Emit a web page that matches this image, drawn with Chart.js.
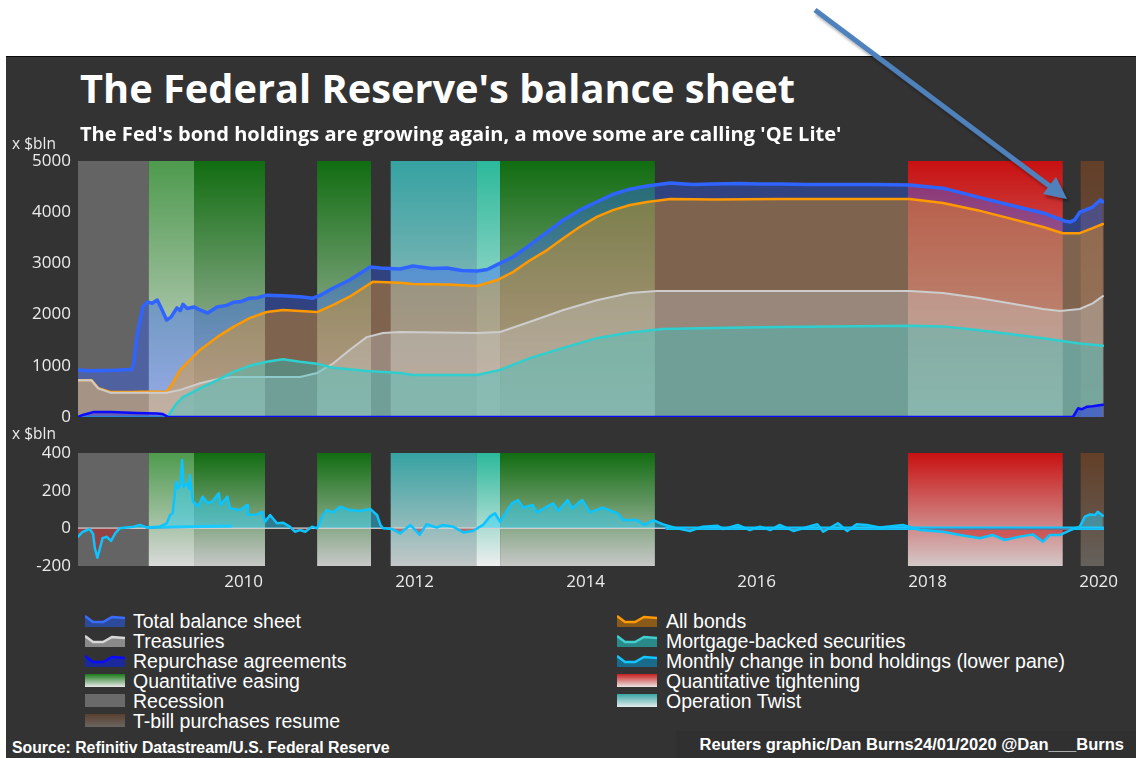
<!DOCTYPE html>
<html><head><meta charset="utf-8">
<script src="https://cdn.jsdelivr.net/npm/chart.js@4.4.1/dist/chart.umd.min.js"></script>
<style>
html,body{margin:0;padding:0;background:#fff;width:1136px;height:758px;overflow:hidden;position:relative;}
#panel{position:absolute;left:6px;top:56px;width:1130px;height:702px;background:#333333;border-top:1.5px solid #0a0a0a;box-sizing:border-box;}
#credbox{position:absolute;left:676px;top:731px;width:460px;height:27px;background:#303030;}
.t{position:absolute;white-space:nowrap;color:#fff;line-height:1;}
.os{font-family:"Open Sans",sans-serif;}
.ls{font-family:"Liberation Sans",Arial,sans-serif;}
canvas{position:absolute;left:0;}
#c1{top:150px;} #c2{top:445px;}
.leg{position:absolute;height:20px;display:flex;align-items:center;font-family:"Liberation Sans",Arial,sans-serif;font-size:19.5px;color:#fff;white-space:nowrap;line-height:20px;}
.leg svg{margin-right:8px;flex:none;}
#arrow{position:absolute;left:0;top:0;pointer-events:none;}
</style></head><body>
<div id="panel"></div>
<div id="credbox"></div>
<canvas id="c1" width="1136" height="280"></canvas>
<canvas id="c2" width="1136" height="150"></canvas>
<div class="t os" id="title" style="font-weight:700;font-size:34px;">The Federal Reserve's balance sheet</div>
<div class="t os" id="subtitle" style="font-weight:700;font-size:17px;">The Fed's bond holdings are growing again, a move some are calling 'QE Lite'</div>
<div class="t os" id="xb1" style="font-size:15.5px;color:#ececec;">x $bln</div>
<div class="t os" id="xb2" style="font-size:15.5px;color:#ececec;">x $bln</div>
<div class="t ls" id="source" style="font-weight:700;font-size:15px;">Source: Refinitiv Datastream/U.S. Federal Reserve</div>
<div class="t ls" id="credit" style="font-weight:700;font-size:15px;">Reuters graphic/Dan Burns24/01/2020 @Dan___Burns</div>
<div id="legend"></div>
<svg id="arrow" width="1136" height="758">
 <defs><filter id="sh" x="-10%" y="-10%" width="130%" height="130%"><feDropShadow dx="2" dy="3" stdDeviation="1.5" flood-color="#000" flood-opacity="0.35"/></filter></defs>
 <g filter="url(#sh)">
  <line x1="815" y1="10" x2="1051" y2="187" stroke="#4f81bd" stroke-width="5"/>
  <polygon points="1067,199 1043,194 1056,177" fill="#4f81bd"/>
 </g>
</svg>
<script>
// ---------------- DATA ($ billion; x = decimal year) ----------------
const totalBalance = [[2008.06,918],[2008.20,905],[2008.35,910],[2008.50,915],[2008.69,930],[2008.71,1000],[2008.75,1560],[2008.82,2150],[2008.88,2250],[2008.93,2220],[2008.99,2285],[2009.03,2150],[2009.10,1895],[2009.15,1950],[2009.22,2130],[2009.26,2080],[2009.29,2200],[2009.34,2120],[2009.42,2150],[2009.49,2090],[2009.58,2030],[2009.69,2150],[2009.80,2180],[2009.88,2240],[2009.96,2250],[2010.07,2320],[2010.16,2330],[2010.27,2380],[2010.46,2370],[2010.66,2350],[2010.81,2320],[2010.90,2380],[2011.05,2520],[2011.24,2675],[2011.48,2930],[2011.60,2910],[2011.83,2890],[2011.98,2950],[2012.20,2900],[2012.38,2910],[2012.55,2860],[2012.73,2850],[2012.85,2880],[2012.96,2970],[2013.15,3125],[2013.35,3360],[2013.55,3610],[2013.74,3850],[2013.93,4040],[2014.13,4200],[2014.32,4350],[2014.52,4450],[2014.72,4510],[2014.99,4570],[2015.25,4540],[2015.49,4550],[2015.80,4560],[2016.04,4550],[2016.27,4550],[2016.60,4540],[2017.00,4540],[2017.40,4540],[2017.79,4530],[2018.18,4470],[2018.58,4300],[2018.96,4140],[2019.35,3985],[2019.60,3830],[2019.67,3810],[2019.72,3850],[2019.78,4000],[2019.86,4050],[2019.93,4100],[2020.02,4240],[2020.05,4200]];
const allBonds = [[2008.06,720],[2008.22,720],[2008.30,565],[2008.44,490],[2008.70,490],[2008.80,495],[2009.00,495],[2009.10,490],[2009.17,660],[2009.26,920],[2009.37,1110],[2009.49,1310],[2009.69,1560],[2009.88,1760],[2010.07,1930],[2010.27,2050],[2010.46,2090],[2010.66,2070],[2010.86,2050],[2011.05,2190],[2011.24,2350],[2011.51,2640],[2011.83,2620],[2011.98,2600],[2012.40,2590],[2012.73,2560],[2012.96,2670],[2013.15,2830],[2013.35,3060],[2013.55,3260],[2013.74,3490],[2013.93,3710],[2014.13,3910],[2014.32,4040],[2014.52,4140],[2014.72,4200],[2014.99,4260],[2015.50,4250],[2016.27,4260],[2017.00,4260],[2017.79,4260],[2018.18,4180],[2018.58,4040],[2018.96,3880],[2019.35,3710],[2019.58,3590],[2019.78,3590],[2019.93,3690],[2020.05,3770]];
const treasuries = [[2008.06,720],[2008.22,720],[2008.30,560],[2008.44,475],[2009.10,475],[2009.26,530],[2009.49,660],[2009.69,740],[2009.88,780],[2010.27,780],[2010.66,780],[2010.86,860],[2011.05,1050],[2011.24,1310],[2011.44,1560],[2011.63,1640],[2011.83,1660],[2012.30,1650],[2012.73,1640],[2013.00,1660],[2013.35,1860],[2013.74,2090],[2014.13,2280],[2014.52,2420],[2014.83,2460],[2016.27,2460],[2017.79,2460],[2018.18,2420],[2018.58,2330],[2018.96,2220],[2019.35,2110],[2019.55,2070],[2019.78,2110],[2019.93,2220],[2020.05,2360]];
const mortgageBacked = [[2008.06,0],[2009.11,0],[2009.20,230],[2009.29,390],[2009.49,560],[2009.69,720],[2009.88,880],[2010.07,1000],[2010.27,1080],[2010.46,1130],[2010.66,1080],[2010.86,1040],[2011.05,960],[2011.44,900],[2011.83,860],[2011.98,820],[2012.73,820],[2013.00,920],[2013.35,1150],[2013.74,1350],[2014.13,1540],[2014.52,1650],[2014.90,1720],[2015.49,1740],[2016.27,1760],[2017.79,1780],[2018.18,1770],[2018.58,1700],[2018.96,1620],[2019.35,1540],[2019.76,1440],[2020.05,1390]];
const repurchase = [[2008.06,0],[2008.12,40],[2008.25,100],[2008.45,100],[2008.60,90],[2008.75,80],[2008.99,70],[2009.05,60],[2009.12,0],[2019.70,0],[2019.76,170],[2019.80,150],[2019.86,200],[2019.93,210],[2020.05,240]];
const monthlyChange = [[2008.06,-45],[2008.12,-18],[2008.20,-4],[2008.24,-30],[2008.26,-105],[2008.29,-156],[2008.32,-105],[2008.35,-52],[2008.40,-45],[2008.45,-67],[2008.50,-25],[2008.55,0],[2008.71,9],[2008.79,18],[2008.87,4],[2009.02,9],[2009.10,27],[2009.14,71],[2009.17,80],[2009.21,248],[2009.23,212],[2009.26,230],[2009.28,363],[2009.30,221],[2009.34,239],[2009.36,210],[2009.37,283],[2009.41,141],[2009.47,115],[2009.52,168],[2009.58,133],[2009.63,141],[2009.71,186],[2009.73,124],[2009.81,168],[2009.84,106],[2009.96,97],[2010.04,124],[2010.05,71],[2010.16,74],[2010.22,88],[2010.25,35],[2010.31,71],[2010.39,27],[2010.46,30],[2010.54,9],[2010.60,-18],[2010.66,-9],[2010.72,-18],[2010.80,9],[2010.86,0],[2010.92,62],[2010.97,97],[2011.05,85],[2011.13,115],[2011.24,97],[2011.36,92],[2011.48,103],[2011.56,71],[2011.60,18],[2011.63,0],[2011.74,-4],[2011.83,-27],[2011.95,18],[2012.06,-35],[2012.14,22],[2012.26,4],[2012.33,18],[2012.45,9],[2012.57,-22],[2012.68,-14],[2012.80,18],[2012.88,62],[2012.94,80],[2013.00,35],[2013.06,80],[2013.14,133],[2013.21,150],[2013.27,110],[2013.38,124],[2013.43,85],[2013.55,115],[2013.62,133],[2013.68,92],[2013.79,150],[2013.84,106],[2013.96,150],[2014.05,85],[2014.20,110],[2014.37,80],[2014.44,44],[2014.60,44],[2014.69,18],[2014.79,44],[2014.90,22],[2015.07,0],[2015.22,-14],[2015.37,9],[2015.54,14],[2015.61,-4],[2015.78,18],[2015.92,-9],[2016.04,9],[2016.16,-9],[2016.27,18],[2016.43,-14],[2016.71,22],[2016.78,-18],[2016.95,27],[2017.06,-14],[2017.17,22],[2017.29,18],[2017.44,4],[2017.71,18],[2017.91,-9],[2018.18,-18],[2018.38,-35],[2018.61,-53],[2018.76,-35],[2018.90,-62],[2019.08,-44],[2019.23,-32],[2019.35,-71],[2019.43,-35],[2019.55,-35],[2019.67,-9],[2019.78,9],[2019.84,62],[2019.90,74],[2019.96,71],[2019.99,88],[2020.05,67]];
const flatEarly = [[2008.06,0],[2014.95,0]];
const flatShort = [[2008.87,5],[2009.85,12]];
const flatLate = [[2014.95,0],[2020.05,0]];
const upperTicks = [0,1000,2000,3000,4000,5000];
const lowerTicks = [-200,0,200,400];
const yearTicks = [2010,2012,2014,2016,2018,2020];
const bandKind  = ['recession','recessionQE','qe','qe','twist','twistQE','qe','qt','tbill'];
const bandStart = [2008.063,2008.89,2009.42,2010.86,2011.72,2012.72,2013.00,2017.77,2019.79];
const bandEnd   = [2008.89,2009.42,2010.25,2011.49,2012.72,2013.00,2014.81,2019.58,2020.063];

// ---------------- STYLE ----------------
const bandStyle = {recession:['#646464','#646464'],recessionQE:['#4e9a4e','#dadada'],qe:['#116d11','#c8c8c8'],
  twist:['#36a2a2','#c4c8c8'],twistQE:['#2cb99b','#efefef'],qt:['#c81111','#d4c8c8'],tbill:['#633f28','#65615c']};
const xMin = 2008.063, xMax = 2020.063;
const tickFont = {family:"'Open Sans', sans-serif", size:17, lineHeight:1.2};
const tickColor = '#ececec';
const xy = a => a.map(p => ({x:p[0], y:p[1]}));
const plain = v => String(v);
function noPad(s){ s.paddingTop = 0; s.paddingBottom = 0; }

const bandPlugin = {
  id:'bands',
  beforeDatasetsDraw(chart){
    const {ctx, chartArea:a, scales:{x}} = chart;
    ctx.save();
    for (let i=0;i<bandKind.length;i++){
      const st = bandStyle[bandKind[i]];
      const x0 = x.getPixelForValue(bandStart[i]), x1 = x.getPixelForValue(bandEnd[i]);
      const g = ctx.createLinearGradient(0,a.top,0,a.bottom);
      g.addColorStop(0,st[0]); g.addColorStop(1,st[1]);
      ctx.fillStyle = g;
      ctx.fillRect(x0,a.top,x1-x0,a.bottom-a.top);
    }
    ctx.restore();
  }
};
const common = {
  responsive:false, animation:false, devicePixelRatio:1,
  plugins:{legend:{display:false}, tooltip:{enabled:false}},
  elements:{point:{radius:0}, line:{tension:0, borderJoinStyle:'round', borderCapStyle:'round'}}
};
new Chart(document.getElementById('c1'), {
  type:'line',
  data:{datasets:[
    {label:'Repurchase agreements', data:xy(repurchase), borderColor:'#0a0aff', backgroundColor:'rgba(0,0,255,0.37)', borderWidth:2.5, fill:'origin'},
    {label:'Mortgage-backed securities', data:xy(mortgageBacked), borderColor:'#2fcfcf', backgroundColor:'rgba(40,200,200,0.37)', borderWidth:2.5, fill:'origin'},
    {label:'Treasuries', data:xy(treasuries), borderColor:'#cdcdcd', backgroundColor:'rgba(200,200,200,0.36)', borderWidth:2, fill:'origin'},
    {label:'All bonds', data:xy(allBonds), borderColor:'#ff9900', backgroundColor:'rgba(255,153,0,0.38)', borderWidth:2.5, fill:'origin'},
    {label:'Total balance sheet', data:xy(totalBalance), borderColor:'#3064ff', backgroundColor:'rgba(45,95,255,0.38)', borderWidth:3.5, fill:'origin'}
  ]},
  options:Object.assign({}, common, {
    layout:{padding:{left:0,right:32,top:11,bottom:13}},
    scales:{
      x:{type:'linear', min:xMin, max:xMax, display:false},
      y:{min:0, max:5000, afterBuildTicks(s){s.ticks = upperTicks.map(v=>({value:v}));},
         ticks:{color:tickColor, font:tickFont, padding:7, callback:plain}, grid:{display:false, drawTicks:false}, border:{display:false},
         afterFit(s){s.width = 78; noPad(s);}}
    }
  }),
  plugins:[bandPlugin]
});
new Chart(document.getElementById('c2'), {
  type:'line',
  data:{datasets:[
    {label:'Monthly change in bond holdings', data:xy(monthlyChange), borderColor:'#0cc4ff', borderWidth:2.5,
     fill:{target:{value:0}, above:'rgba(40,210,255,0.45)', below:'rgba(200,30,30,0.5)'}},
    {data:xy(flatShort), borderColor:'#0cc4ff', borderWidth:3, fill:false},
    {data:xy(flatLate), borderColor:'#0cc4ff', borderWidth:3.5, fill:false},
    {data:xy(flatEarly), borderColor:'rgba(228,228,228,0.9)', borderWidth:1.5, fill:false}
  ]},
  options:Object.assign({}, common, {
    layout:{padding:{left:0,right:32,top:8,bottom:0}},
    scales:{
      x:{type:'linear', min:xMin, max:xMax,
         afterBuildTicks(s){s.ticks = yearTicks.map(v=>({value:v}));},
         ticks:{color:tickColor, font:tickFont, padding:6, maxRotation:0, autoSkip:false, callback:plain},
         grid:{display:false, drawTicks:false}, border:{display:false}, afterFit(s){s.height = 29;}},
      y:{min:-200, max:400, afterBuildTicks(s){s.ticks = lowerTicks.map(v=>({value:v}));},
         ticks:{color:tickColor, font:tickFont, padding:7, callback:plain}, grid:{display:false, drawTicks:false}, border:{display:false},
         afterFit(s){s.width = 78; noPad(s);}}
    }
  }),
  plugins:[bandPlugin]
});

// ---------------- TEXT PLACEMENT ----------------
const OS = 0.888, LS = 0.8465; // baseline offset (line-height 1)
function place(id, left, baseline, width, k, right){
  const el = document.getElementById(id);
  let fs = parseFloat(el.style.fontSize);
  if (width){ const w = el.getBoundingClientRect().width; fs = fs*width/w; el.style.fontSize = fs+'px'; }
  const w2 = el.getBoundingClientRect().width;
  el.style.left = (right ? right - w2 : left) + 'px';
  el.style.top = (baseline - k*fs) + 'px';
}
place('title', 80, 104, 715, OS);
place('subtitle', 80, 142, 762, OS);
place('xb1', 12, 150, 0, OS);
place('xb2', 12, 440, 0, OS);
place('source', 12, 753, 378, LS);
place('credit', 0, 751, 425, LS, 1124);

// ---------------- LEGEND ----------------
const legendLeft = ['Total balance sheet','Treasuries','Repurchase agreements','Quantitative easing','Recession','T-bill purchases resume'];
const legendRight = ['All bonds','Mortgage-backed securities','Monthly change in bond holdings (lower pane)','Quantitative tightening','Operation Twist'];
const swatch = {
  'Total balance sheet':['line','#2c4a9a','#3a6cff'],
  'Treasuries':['line','#8a8a8a','#d8d8d8'],
  'Repurchase agreements':['line','#1a2a9a','#0a0aff'],
  'All bonds':['line','#8a5a1a','#ff9a00'],
  'Mortgage-backed securities':['line','#2a8a8a','#40d0d0'],
  'Monthly change in bond holdings (lower pane)':['line','#1a6a8a','#10c8ff'],
  'Quantitative easing':['grad','#1a7a1a','#e8e8e8'],
  'Recession':['grad','#6a6a6a','#6a6a6a'],
  'T-bill purchases resume':['grad','#5a4030','#6a6560'],
  'Quantitative tightening':['grad','#c82020','#ece4e4'],
  'Operation Twist':['grad','#3aa5a5','#e4ecec']
};
let gid = 0;
function svgFor(name){
  const s = swatch[name];
  if (s[0]==='line'){
    return `<svg width="40" height="13"><path d="M0,2 L8,8 L18,8 L27,3 L40,4 L40,13 L0,13 Z" fill="${s[1]}"/><path d="M0,2 L8,8 L18,8 L27,3 L40,4" fill="none" stroke="${s[2]}" stroke-width="2.5"/></svg>`;
  }
  gid++;
  return `<svg width="40" height="13"><defs><linearGradient id="g${gid}" x1="0" y1="0" x2="0" y2="1"><stop offset="0" stop-color="${s[1]}"/><stop offset="1" stop-color="${s[2]}"/></linearGradient></defs><rect width="40" height="13" fill="url(#g${gid})"/></svg>`;
}
const leg = document.getElementById('legend');
legendLeft.forEach((n,i)=>{ const d=document.createElement('div'); d.className='leg'; d.style.left='85px'; d.style.top=(610.5+i*20)+'px'; d.innerHTML=svgFor(n)+'<span>'+n+'</span>'; leg.appendChild(d); });
legendRight.forEach((n,i)=>{ const d=document.createElement('div'); d.className='leg'; d.style.left='617px'; d.style.top=(610.5+i*20)+'px'; d.innerHTML=svgFor(n)+'<span>'+n+'</span>'; d.querySelector('svg').style.marginRight='9px'; leg.appendChild(d); });
</script>
</body></html>
